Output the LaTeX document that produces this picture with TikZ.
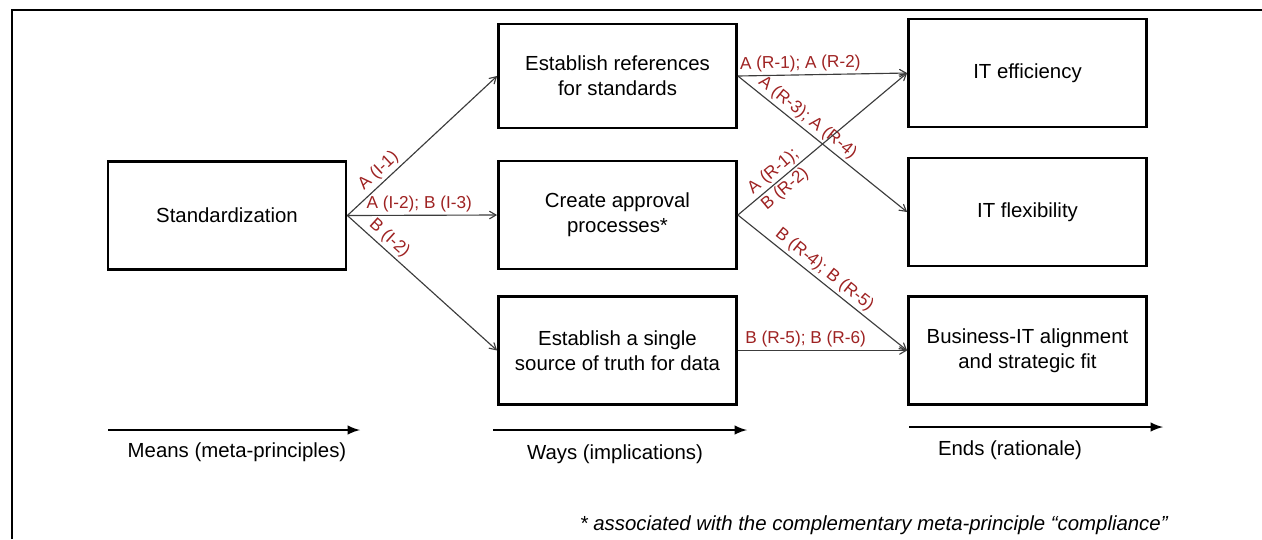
\documentclass[tikz,border=0pt]{standalone}
\usepackage{fontspec}
\setmainfont{Liberation Sans}
\usetikzlibrary{arrows}
\usetikzlibrary{positioning}
\definecolor{labelred}{RGB}{158,34,34}
\definecolor{linkgray}{RGB}{60,60,60}
\tikzset{box/.style={draw=black, line width=1.6pt, minimum width=4.76cm, minimum height=2.16cm, align=center, inner sep=0pt, font=\fontsize{11.6}{14.2}\selectfont},
link/.style={->, >=angle 60, draw=linkgray, line width=0.65pt},
lbl/.style={text=labelred, sloped, inner sep=1.5pt, font=\fontsize{9.8}{12}\selectfont},
axis/.style={-latex, line width=1.4pt},
axislbl/.style={below=7pt, inner sep=0pt, font=\fontsize{11.6}{14}\selectfont}}
\begin{document}
\begin{tikzpicture}[x=0.02cm, y=-0.02cm]
\useasboundingbox (0,0) rectangle (1262,539);
\draw [line width=0.8pt] (12,10) -- (1262,10);
\draw [line width=1.6pt] (12,539) -- (12,10) -- (104,10);
\draw [line width=1.6pt] (1172,10) -- (1262,10);
\node [box] (std) at (227,215.5) {Standardization};
\node [box, minimum height=2.08cm] (eref) at (617.5,76) {Establish references\\for standards};
\node [box] (appr) at (617.5,215) {Create approval\\processes*};
\node [box] (single) at (617.5,350.5) {Establish a single\\source of truth for data};
\node [box] (eff) at (1027.5,73) {IT efficiency};
\node [box] (flex) at (1027.5,212) {IT flexibility};
\node [box] (biz) at (1027.5,350.5) {Business-IT alignment\\and strategic fit};
\draw [link] (std.east) -- node [lbl, above, pos=0.26] {A (I-1)} (eref.west);
\draw [link] (std.east) -- node [lbl, above, pos=0.48] {A (I-2); B (I-3)} (appr.west);
\draw [link] (std.east) -- node [lbl, above, pos=0.23] {B (I-2)} (single.west);
\draw [link] (eref.east) -- node [lbl, above, pos=0.37] {A (R-1); A (R-2)} (eff.west);
\draw [link] (eref.east) -- node [lbl, above, pos=0.37] {A (R-3); A (R-4)} (flex.west);
\draw [link] (appr.east) -- node [lbl, pos=0.25, align=left] {A (R-1);\\B (R-2)} (eff.west);
\draw [link] (appr.east) -- node [lbl, above, pos=0.47] {B (R-4); B (R-5)} (biz.west);
\draw [link] (single.east) -- node [lbl, above, pos=0.40] {B (R-5); B (R-6)} (biz.west);
\coordinate (means1) at (108,430);
\coordinate (means2) at (360,430);
\coordinate (ways1) at (493,430);
\coordinate (ways2) at (747,430);
\coordinate (ends1) at (909,427);
\coordinate (ends2) at (1163,427);
\draw [axis] (means1) -- (means2);
\draw [axis] (ways1) -- (ways2);
\draw [axis] (ends1) -- (ends2);
\node [axislbl] (meanslbl) at (237,430) {Means (meta-principles)};
\node [axislbl] (wayslbl) at (615,432) {Ways (implications)};
\node [axislbl] (endslbl) at (1010,428) {Ends (rationale)};
\node [anchor=east, inner sep=0pt, font=\fontsize{11.6}{14}\selectfont\itshape] (note) at (1168,525) {* associated with the complementary meta-principle “compliance”};
\end{tikzpicture}
\end{document}
